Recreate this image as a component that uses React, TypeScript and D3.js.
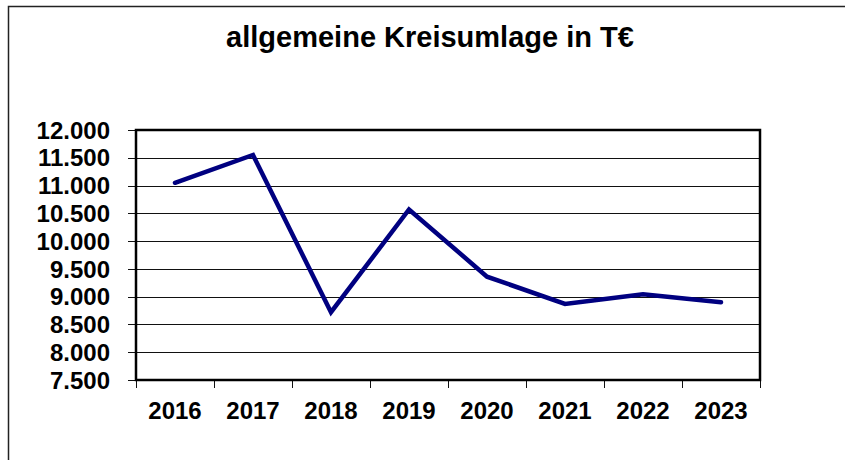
import React, { useRef, useEffect } from "react";
import * as d3 from "d3";

const years = ["2016", "2017", "2018", "2019", "2020", "2021", "2022", "2023"];
const values = [11050, 11550, 8720, 10570, 9360, 8870, 9045, 8900];
const yTicks = [7500, 8000, 8500, 9000, 9500, 10000, 10500, 11000, 11500, 12000];
const title = "allgemeine Kreisumlage in T€";

function KreisumlageChart() {
  const svgRef = useRef<SVGSVGElement>(null);

  useEffect(() => {
    const width = 845;
    const height = 460;
    const plot = { left: 136, right: 760, top: 130, bottom: 380 };
    const font = "'Liberation Sans', Arial, sans-serif";

    const svg = d3.select(svgRef.current).attr("width", width).attr("height", height);
    svg.selectAll("*").remove();

    // outer frame (runs off the right and bottom edge)
    svg.append("rect")
      .attr("x", 8.5)
      .attr("y", 6.5)
      .attr("width", 900)
      .attr("height", 500)
      .attr("fill", "white")
      .attr("stroke", "#222")
      .attr("stroke-width", 1.5);

    svg.append("text")
      .attr("x", 430)
      .attr("y", 47)
      .attr("text-anchor", "middle")
      .attr("font-family", font)
      .attr("font-weight", "bold")
      .attr("font-size", 29)
      .text(title);

    const x = d3.scaleBand()
      .domain(years)
      .range([plot.left, plot.right]);

    const y = d3.scaleLinear()
      .domain([7500, 12000])
      .range([plot.bottom, plot.top]);

    const nf = d3.formatLocale({ decimal: ",", thousands: ".", grouping: [3], currency: ["", "€"] }).format(",d");

    // gridlines + left ticks
    svg.append("g")
      .selectAll("line")
      .data(yTicks)
      .enter()
      .append("line")
      .attr("x1", plot.left - 8)
      .attr("x2", plot.right)
      .attr("y1", d => Math.round(y(d)) + 0.5)
      .attr("y2", d => Math.round(y(d)) + 0.5)
      .attr("stroke", "#111")
      .attr("stroke-width", 1);

    // bottom ticks at category boundaries
    const bounds = d3.range(years.length + 1).map(i => plot.left + i * x.step());
    svg.append("g")
      .selectAll("line")
      .data(bounds)
      .enter()
      .append("line")
      .attr("x1", d => Math.round(d) + 0.5)
      .attr("x2", d => Math.round(d) + 0.5)
      .attr("y1", plot.bottom)
      .attr("y2", plot.bottom + 8)
      .attr("stroke", "#111")
      .attr("stroke-width", 1);

    // plot border
    svg.append("rect")
      .attr("x", plot.left)
      .attr("y", plot.top)
      .attr("width", plot.right - plot.left)
      .attr("height", plot.bottom - plot.top)
      .attr("fill", "none")
      .attr("stroke", "#000")
      .attr("stroke-width", 2.5);

    // y labels
    svg.append("g")
      .selectAll("text")
      .data(yTicks)
      .enter()
      .append("text")
      .attr("x", 110)
      .attr("y", d => y(d))
      .attr("dy", "0.36em")
      .attr("text-anchor", "end")
      .attr("font-family", font)
      .attr("font-weight", "bold")
      .attr("font-size", 24)
      .text(d => nf(d));

    // x labels
    svg.append("g")
      .selectAll("text")
      .data(years)
      .enter()
      .append("text")
      .attr("x", d => (x(d) as number) + x.bandwidth() / 2)
      .attr("y", 419)
      .attr("text-anchor", "middle")
      .attr("font-family", font)
      .attr("font-weight", "bold")
      .attr("font-size", 24)
      .text(d => d);

    // data line
    const line = d3.line<number>()
      .x((_, i) => (x(years[i]) as number) + x.bandwidth() / 2)
      .y(d => y(d));

    svg.append("path")
      .datum(values)
      .attr("d", line)
      .attr("fill", "none")
      .attr("stroke", "#000080")
      .attr("stroke-width", 4.5)
      .attr("stroke-linecap", "round");
  }, []);

  return <svg ref={svgRef} style={{ display: "block" }}></svg>;
}

export default function App() {
  return (
    <div style={{ position: "fixed", left: 0, top: 0 }}>
      <KreisumlageChart />
    </div>
  );
}
